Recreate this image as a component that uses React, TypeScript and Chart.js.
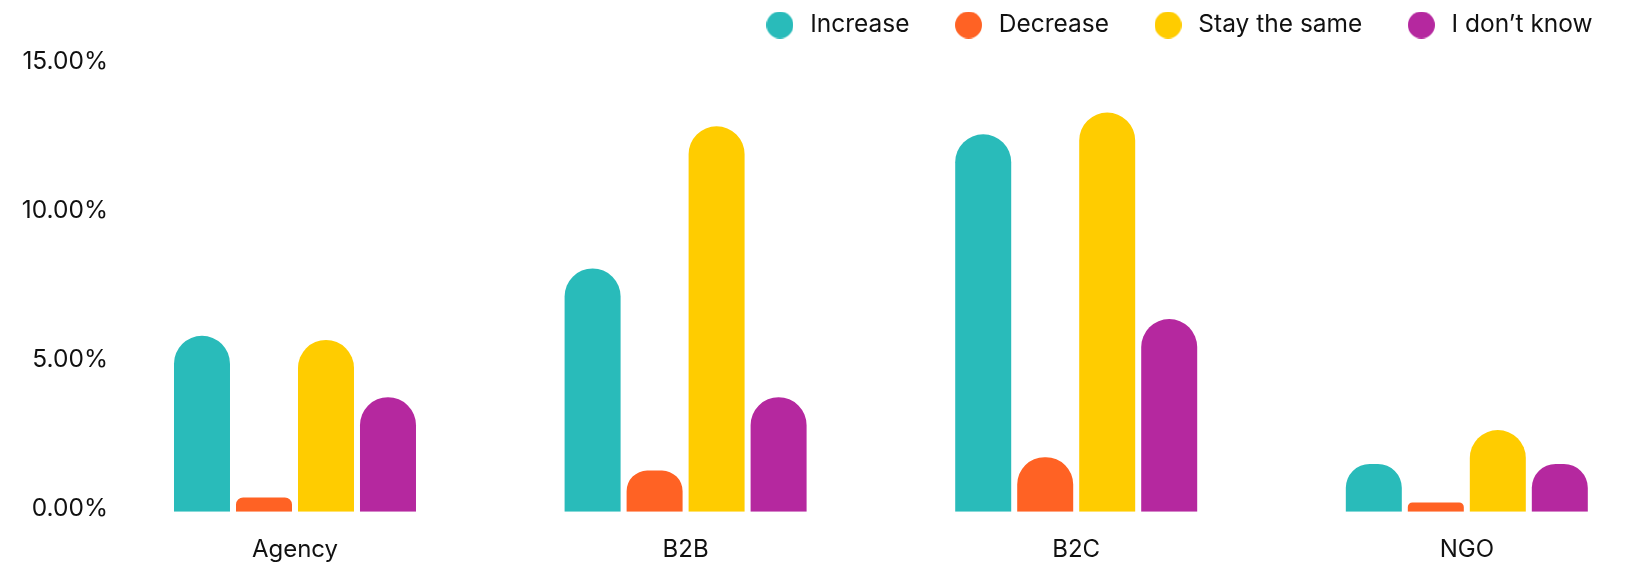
import { useEffect, useRef } from 'react';
import { Chart, registerables } from 'chart.js';

Chart.register(...registerables);

// Respondent shares (%) per organisation type
const categories = ['Agency', 'B2B', 'B2C', 'NGO'];
const seriesNames = ['Increase', 'Decrease', 'Stay the same', 'I don\u2019t know'];
const increase = [5.9, 8.16, 12.66, 1.6];
const decrease = [0.48, 1.38, 1.83, 0.31];
const stayTheSame = [5.76, 12.93, 13.39, 2.74];
const dontKnow = [3.84, 3.84, 6.46, 1.6];
const yTicks = [0, 5, 10, 15];
const seriesColors = ['#29BBBA', '#FF6224', '#FFCC00', '#B5289F'];

const FONT = 'Inter';
const TEXT = '#111111';

// Round legend marker drawn once per colour
function makeMarker(color: string): HTMLCanvasElement {
  const c = document.createElement('canvas');
  c.width = 27;
  c.height = 27;
  const ctx = c.getContext('2d')!;
  ctx.fillStyle = color;
  ctx.beginPath();
  ctx.arc(13.5, 13.5, 13.5, 0, Math.PI * 2);
  ctx.fill();
  return c;
}

export default function App() {
  const canvasRef = useRef<HTMLCanvasElement | null>(null);

  useEffect(() => {
    if (!canvasRef.current) return;
    const markers = seriesColors.map(makeMarker);
    const series = [increase, decrease, stayTheSame, dontKnow];

    const chart = new Chart(canvasRef.current, {
      type: 'bar',
      data: {
        datasets: series.map((values, s) => ({
          label: seriesNames[s],
          data: values.map((y, i) => ({ x: i, y })),
          backgroundColor: seriesColors[s],
          borderRadius: 28,
          borderSkipped: 'start',
          categoryPercentage: 0.6349,
          barPercentage: 0.9032,
        })),
      },
      options: {
        responsive: true,
        maintainAspectRatio: false,
        animation: false,
        layout: { padding: { top: -28.25, right: 2.4, bottom: -21.9, left: 0 } },
        plugins: {
          tooltip: { enabled: false },
          legend: {
            position: 'top',
            align: 'end',
            labels: {
              usePointStyle: true,
              pointStyleWidth: 36,
              padding: 41,
              color: TEXT,
              font: { family: FONT, size: 24.5 },
              generateLabels: (c: Chart) =>
                Chart.defaults.plugins.legend.labels
                  .generateLabels(c)
                  .map((item: any, i: number) => ({ ...item, pointStyle: markers[i], lineWidth: 0 })),
            },
          },
        },
        scales: {
          x: {
            type: 'linear',
            offset: false,
            min: -0.448,
            max: 3.427,
            grid: { display: false, drawTicks: false, offset: false },
            border: { display: false },
            afterBuildTicks: (scale: any) => {
              scale.ticks = categories.map((_, i) => ({ value: i }));
            },
            ticks: {
              padding: 23.2,
              autoSkip: false,
              maxRotation: 0,
              color: TEXT,
              font: { family: FONT, size: 24 },
              callback: (v: any) => categories[v as number] ?? '',
            },
          },
          y: {
            min: 0,
            max: 15.58,
            grid: { display: false, drawTicks: false },
            border: { display: false },
            afterBuildTicks: (scale: any) => {
              scale.ticks = yTicks.map((v) => ({ value: v }));
            },
            afterFit: (scale: any) => {
              scale.width = 120;
            },
            ticks: {
              padding: 12,
              labelOffset: -3,
              color: TEXT,
              font: { family: FONT, size: 24.5 },
              callback: (v: any) => Number(v).toFixed(2) + '%',
            },
          },
        },
      } as any,
    });
    return () => chart.destroy();
  }, []);

  return (
    <div style={{ position: 'absolute', left: 0, top: 0, width: 1636, height: 565, background: '#fff' }}>
      <canvas ref={canvasRef} />
    </div>
  );
}
